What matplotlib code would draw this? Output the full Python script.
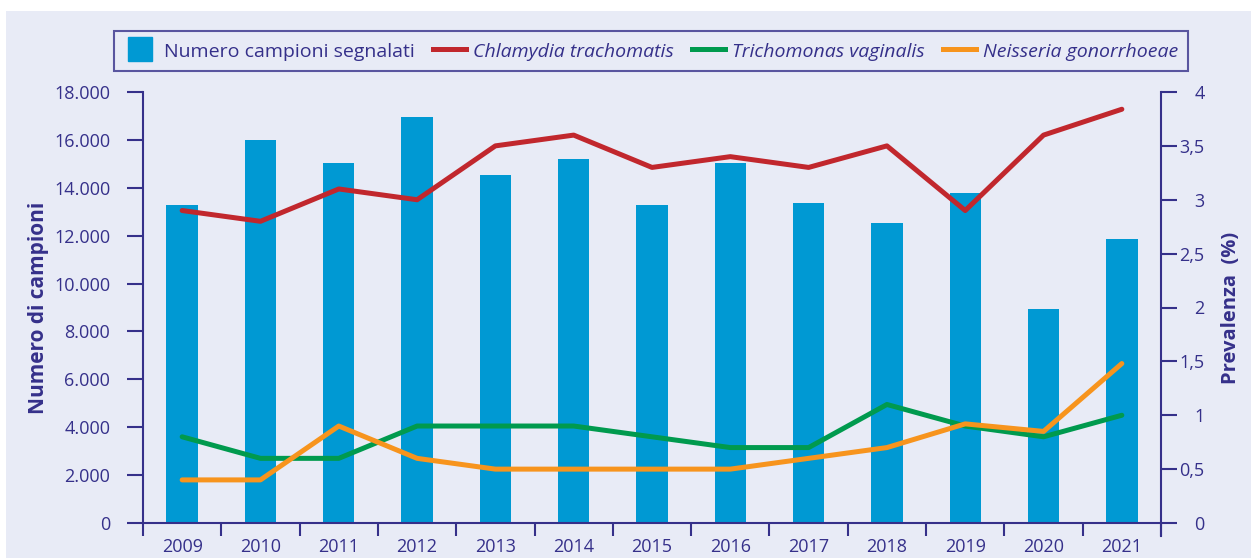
import matplotlib.pyplot as plt
from matplotlib.patches import Rectangle
from matplotlib.lines import Line2D
from matplotlib.ticker import FuncFormatter
import numpy as np

plt.rcParams['font.family'] = ['Open Sans', 'DejaVu Sans']

# Data
years = ['2009', '2010', '2011', '2012', '2013', '2014', '2015',
         '2016', '2017', '2018', '2019', '2020', '2021']
campioni = [13300, 16000, 15050, 16950, 14550, 15200, 13300,
            15050, 13370, 12530, 13780, 8930, 11860]
chlamydia = [2.9, 2.8, 3.1, 3.0, 3.5, 3.6, 3.3, 3.4, 3.3, 3.5, 2.9, 3.6, 3.84]
trichomonas = [0.8, 0.6, 0.6, 0.9, 0.9, 0.9, 0.8, 0.7, 0.7, 1.1, 0.9, 0.8, 1.0]
neisseria = [0.4, 0.4, 0.9, 0.6, 0.5, 0.5, 0.5, 0.5, 0.6, 0.7, 0.92, 0.85, 1.48]

bg = '#e8ebf6'
ink = '#35308a'
c_bar = '#0099d3'
c_red = '#c1272d'
c_green = '#009a4e'
c_orange = '#f7941d'

fig = plt.figure(figsize=(12.51, 5.58), dpi=100)
fig.patch.set_facecolor('white')
fig.patches.append(Rectangle((6 / 1251, 0), 1, 1 - 11 / 558, transform=fig.transFigure,
                             facecolor=bg, edgecolor='none', zorder=-10))

ax = fig.add_axes([143 / 1251, 35 / 558, (1161 - 143) / 1251, (523 - 92) / 558])
ax.set_facecolor('none')
x = np.arange(len(years))
ax.bar(x, campioni, width=0.4, color=c_bar, zorder=1)
ax.set_xlim(-0.5, len(years) - 0.5)
ax.set_ylim(0, 18000)
ax.set_yticks(np.arange(0, 18001, 2000))
ax.yaxis.set_major_formatter(FuncFormatter(lambda v, p: f'{int(v):,}'.replace(',', '.')))
ax.set_xticks(x)
ax.set_xticklabels(years)
ax.set_xticks(np.arange(-0.5, len(years), 1), minor=True)

for s in ['top', 'right']:
    ax.spines[s].set_visible(False)
for s in ['left', 'bottom']:
    ax.spines[s].set_color(ink)
    ax.spines[s].set_linewidth(1.5)
ax.spines['left'].set_bounds(0, 18000)
ax.tick_params(axis='y', colors=ink, labelsize=13, length=11.5, width=1.5, pad=12)
ax.tick_params(axis='x', which='major', colors=ink, labelsize=13, length=0, pad=11)
ax.tick_params(axis='x', which='minor', colors=ink, length=9, width=1.5)
ax.set_ylabel('Numero di campioni', color=ink, fontsize=15, fontweight='bold', labelpad=4)

ax2 = ax.twinx()
ax2.plot(x, chlamydia, color=c_red, lw=3.6, solid_capstyle='round')
ax2.plot(x, trichomonas, color=c_green, lw=3.6, solid_capstyle='round')
ax2.plot(x, neisseria, color=c_orange, lw=3.6, solid_capstyle='round')
ax2.set_ylim(0, 4)
ax2.set_yticks([0, 0.5, 1, 1.5, 2, 2.5, 3, 3.5, 4])
ax2.yaxis.set_major_formatter(FuncFormatter(lambda v, p: f'{v:g}'.replace('.', ',')))
for s in ['top', 'left', 'bottom']:
    ax2.spines[s].set_visible(False)
ax2.spines['right'].set_color(ink)
ax2.spines['right'].set_linewidth(1.5)
ax2.spines['right'].set_bounds(-0.12, 4)
ax2.tick_params(axis='y', colors=ink, labelsize=13, length=11.5, width=1.5, pad=20)
for t in ax2.get_yticklabels():
    t.set_ha('right')
ax2.set_ylabel('Prevalenza  (%)', color=ink, fontsize=14.5, fontweight='bold', labelpad=12)

handles = [Line2D([], [], marker='s', ms=17, color=c_bar, lw=0),
           Line2D([], [], color=c_red, lw=3.6),
           Line2D([], [], color=c_green, lw=3.6),
           Line2D([], [], color=c_orange, lw=3.6)]
labels = ['Numero campioni segnalati', 'Chlamydia trachomatis',
          'Trichomonas vaginalis', 'Neisseria gonorrhoeae']
leg = fig.legend(handles, labels, ncol=4, loc='center',
                 bbox_to_anchor=(651 / 1251, 1 - 51 / 558),
                 frameon=True, fontsize=14, handlelength=1.7, handleheight=1.1,
                 handletextpad=0.36, columnspacing=0.95, borderpad=0.5, fancybox=False,
                 labelcolor=ink)
leg.get_frame().set_edgecolor(ink)
leg.get_frame().set_facecolor(bg)
leg.get_frame().set_linewidth(1.5)
for t in leg.get_texts()[1:]:
    t.set_style('italic')

fig.savefig('out.png', dpi=100, facecolor=fig.get_facecolor())
